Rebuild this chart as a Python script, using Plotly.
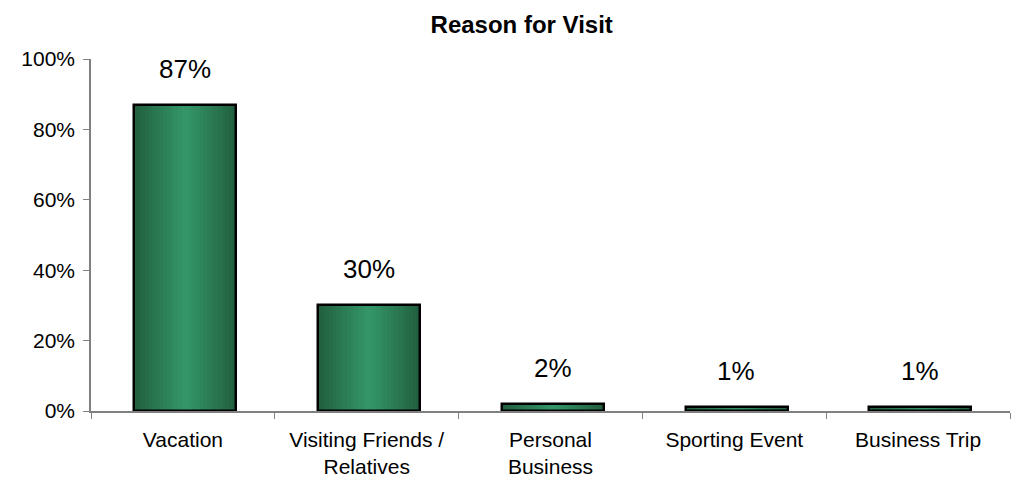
import plotly.graph_objects as go

categories = ["Vacation", "Visiting Friends /<br>Relatives", "Personal<br>Business", "Sporting Event", "Business Trip"]
values = [0.87, 0.30, 0.02, 0.01, 0.01]
value_labels = ["87%", "30%", "2%", "1%", "1%"]
y_ticks = [0, 0.2, 0.4, 0.6, 0.8, 1.0]
y_tick_labels = ["0%", "20%", "40%", "60%", "80%", "100%"]

FONT = "Liberation Sans, Arial, sans-serif"
BAR_W = 0.555
edge = (33, 96, 64)
center = (52, 150, 104)

fig = go.Figure()
n = 14
for i in range(n):
    t = i / (n - 1)
    w = BAR_W * (1 - t * 0.93)
    c = tuple(int(round(edge[k] + (center[k] - edge[k]) * t)) for k in range(3))
    fig.add_trace(go.Bar(
        x=categories, y=values, width=w, offset=-w / 2 + 0.012,
        marker=dict(color=f"rgb{c}", line=dict(width=0)),
        hoverinfo="skip", showlegend=False,
    ))
fig.add_trace(go.Bar(
    x=categories, y=values, width=BAR_W, offset=-BAR_W / 2 + 0.012,
    marker=dict(color="rgba(0,0,0,0)", line=dict(color="black", width=2.5)),
    showlegend=False,
))

for cat, v, lab in zip(categories, values, value_labels):
    fig.add_annotation(x=cat, y=v, text=lab, showarrow=False, yanchor="bottom",
                       yshift=19, xshift=2, font=dict(family=FONT, size=26, color="black"))

fig.update_layout(
    width=1017, height=480,
    margin=dict(l=91, r=7, t=59, b=69),
    paper_bgcolor="white", plot_bgcolor="white",
    barmode="overlay", bargap=0,
    font=dict(family=FONT, color="black", size=20),
    title=dict(text="<b>Reason for Visit</b>", x=0.513, xref="container", xanchor="center",
               y=1 - 25 / 480, yref="container", yanchor="middle",
               font=dict(family=FONT, size=24, color="black")),
)
fig.update_xaxes(
    type="category", showline=True, linecolor="#808080", linewidth=1.5,
    ticks="outside", tickson="boundaries", ticklen=6, tickcolor="#808080",
    showgrid=False, tickfont=dict(family=FONT, size=21, color="black"),
    ticklabelstandoff=9, automargin=False,
    range=[-0.5, 4.5],
)
fig.update_yaxes(
    range=[0, 1], tickvals=y_ticks, ticktext=y_tick_labels,
    showline=True, linecolor="#808080", linewidth=1.5,
    ticks="outside", ticklen=6, tickcolor="#808080",
    showgrid=False, zeroline=False, tickfont=dict(family=FONT, size=21, color="black"),
    ticklabelstandoff=4, automargin=False,
)

fig.write_html("out.html")
